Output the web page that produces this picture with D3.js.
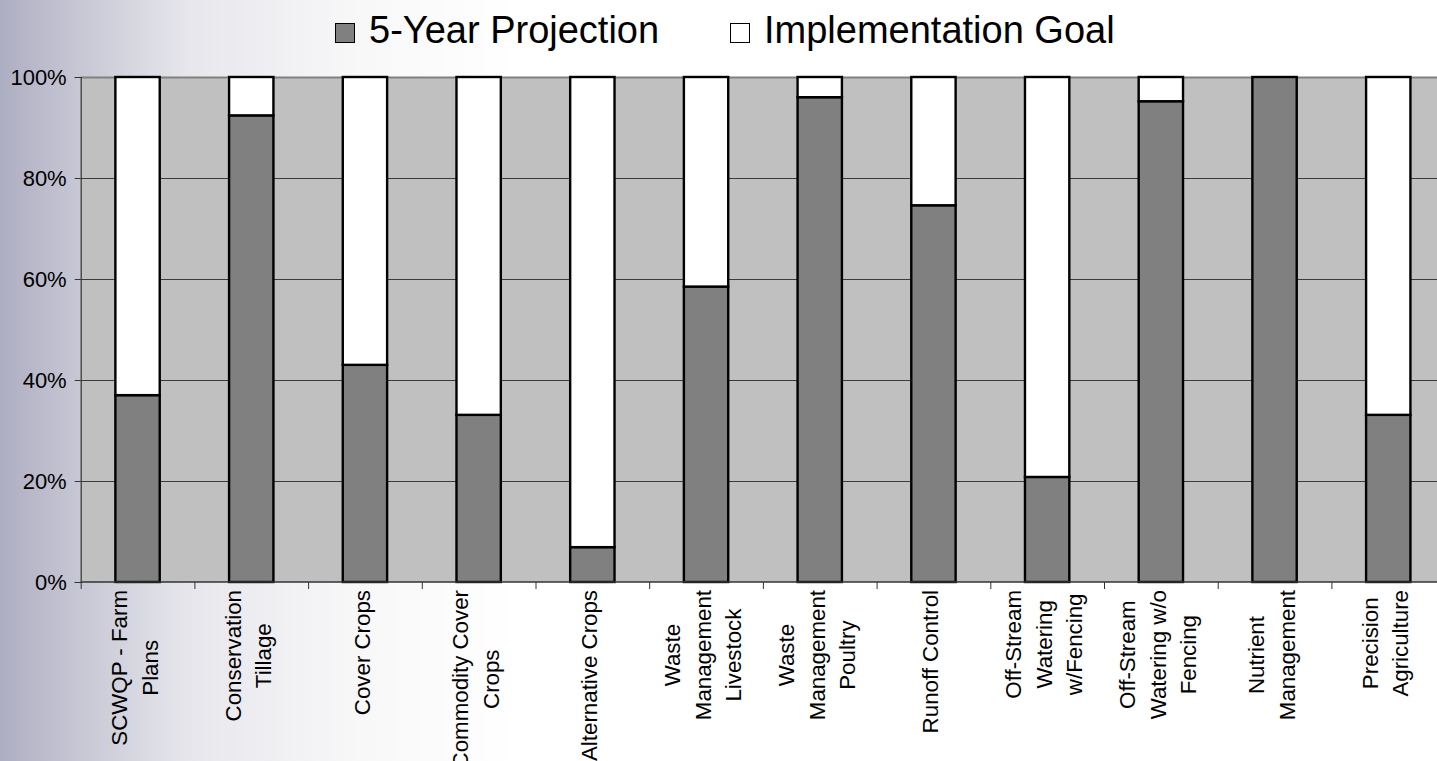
<!DOCTYPE html>
<html>
<head>
<meta charset="utf-8">
<script src="https://cdn.jsdelivr.net/npm/d3@7"></script>
<style>
  html, body { margin: 0; padding: 0; background: #fff; overflow: hidden; }
  text { font-family: "Liberation Sans", Arial, sans-serif; fill: #000; }
</style>
</head>
<body>
<div id="chart"></div>
<script>
// categories and the two stacked series (percent of goal)
const categories = [
  "SCWQP - Farm Plans", "Conservation Tillage", "Cover Crops", "Commodity Cover Crops",
  "Alternative Crops", "Waste Management Livestock", "Waste Management Poultry",
  "Runoff Control", "Off-Stream Watering w/Fencing", "Off-Stream Watering w/o Fencing",
  "Nutrient Management", "Precision Agriculture"
];
// how each label wraps on the axis
const labelLines = [
  ["SCWQP - Farm", "Plans"], ["Conservation", "Tillage"], ["Cover Crops"],
  ["Commodity Cover", "Crops"], ["Alternative Crops"], ["Waste", "Management", "Livestock"],
  ["Waste", "Management", "Poultry"], ["Runoff Control"], ["Off-Stream", "Watering", "w/Fencing"],
  ["Off-Stream", "Watering w/o", "Fencing"], ["Nutrient", "Management"], ["Precision", "Agriculture"]
];
const projection = [37, 92.4, 43, 33.1, 6.9, 58.5, 96, 74.6, 20.8, 95.2, 100, 33.1];
const goal       = [63, 7.6, 57, 66.9, 93.1, 41.5, 4, 25.4, 79.2, 4.8, 0, 66.9];
const seriesNames = ["5-Year Projection", "Implementation Goal"];
const seriesColors = ["#808080", "#ffffff"];
const yTicks = [0, 20, 40, 60, 80, 100];

const width = 1437;
const height = 761;
const marginLeft = 80.7;
const marginTop = 77;
const plotBottom = 582;
const step = 113.7;
const fontStack = "'Liberation Sans', Arial, sans-serif";

const svg = d3.select("#chart").append("svg")
    .attr("width", width)
    .attr("height", height);

// background gradient on the left
const grad = svg.append("defs").append("linearGradient")
    .attr("id", "bg").attr("x1", 0).attr("x2", 1).attr("y1", 0).attr("y2", 0);
grad.append("stop").attr("offset", 0).attr("stop-color", "#aeaec2");
grad.append("stop").attr("offset", 0.06).attr("stop-color", "#c9c9d6");
grad.append("stop").attr("offset", 0.13).attr("stop-color", "#e6e6ec");
grad.append("stop").attr("offset", 0.24).attr("stop-color", "#f7f7f8");
grad.append("stop").attr("offset", 0.36).attr("stop-color", "#ffffff");
svg.append("rect").attr("width", width).attr("height", height).attr("fill", "url(#bg)");

// scales
const x = d3.scaleBand()
    .domain(categories)
    .range([marginLeft, marginLeft + step * categories.length])
    .padding(0);

const y = d3.scaleLinear()
    .domain([0, 100])
    .range([plotBottom, marginTop]);

// plot area
svg.append("rect")
    .attr("x", x.range()[0]).attr("y", y(100))
    .attr("width", x.range()[1] - x.range()[0])
    .attr("height", y(0) - y(100))
    .attr("fill", "#c0c0c0");

// gridlines
svg.append("g")
    .selectAll("line")
    .data(yTicks.filter(d => d > 0))
    .join("line")
    .attr("x1", x.range()[0]).attr("x2", x.range()[1])
    .attr("y1", d => Math.round(y(d)) + 0.5).attr("y2", d => Math.round(y(d)) + 0.5)
    .attr("stroke", d => d === 100 ? "#808080" : "#3c3c3c")
    .attr("stroke-width", d => d === 100 ? 2 : 1);

// stacked bars
const stack = d3.stack().keys([0, 1]).value((d, k) => k === 0 ? d.p : d.g);
const rows = categories.map((c, i) => ({ c, p: projection[i], g: goal[i] }));
const layers = stack(rows);
const barW = x.bandwidth() * 0.39;

svg.append("g")
    .selectAll("g")
    .data(layers)
    .join("g")
    .attr("fill", (d, i) => seriesColors[i])
    .selectAll("rect")
    .data(d => d.filter(s => s[1] - s[0] > 0))
    .join("rect")
    .attr("x", d => x(d.data.c) + (x.bandwidth() - barW) / 2)
    .attr("y", d => y(d[1]))
    .attr("width", barW)
    .attr("height", d => y(d[0]) - y(d[1]))
    .attr("stroke", "#000")
    .attr("stroke-width", 2.4);

// y axis
const yAxis = svg.append("g")
    .attr("transform", `translate(${x.range()[0]},0)`)
    .call(d3.axisLeft(y).tickValues(yTicks).tickFormat(d => d + "%").tickSize(6).tickPadding(8))
    .attr("font-size", null)
    .attr("font-family", null);
yAxis.select(".domain").attr("stroke", "#333").attr("stroke-width", 1.2);
yAxis.selectAll(".tick line").attr("stroke", "#333");
yAxis.selectAll(".tick text")
    .style("font-size", "22px")
    .style("font-family", fontStack)
    .attr("fill", "#000");

// x axis line and boundary ticks
const xAxis = svg.append("g").attr("transform", `translate(0,${plotBottom})`);
xAxis.append("line")
    .attr("x1", x.range()[0]).attr("x2", x.range()[1])
    .attr("stroke", "#333").attr("stroke-width", 1.5);
xAxis.selectAll("line.tk")
    .data(categories)
    .join("line")
    .attr("class", "tk")
    .attr("x1", d => x(d) + 0.5).attr("x2", d => x(d) + 0.5)
    .attr("y1", 0).attr("y2", 7)
    .attr("stroke", "#333");

// category labels, rotated, lines centred against each other
const lineH = 30.5;
const labels = svg.append("g")
    .selectAll("g")
    .data(categories)
    .join("g")
    .attr("transform", d => `translate(${x(d) + x.bandwidth() / 2 - 3},${plotBottom + 8}) rotate(-90)`);

labels.each(function(d, i) {
  const g = d3.select(this);
  const lines = labelLines[i];
  const texts = g.selectAll("text")
      .data(lines)
      .join("text")
      .style("font-size", "22.3px")
      .style("font-family", fontStack)
      .attr("text-anchor", "middle")
      .attr("y", (t, j) => (j - (lines.length - 1) / 2) * lineH)
      .attr("dy", "0.35em")
      .text(t => t);
  const maxW = d3.max(texts.nodes(), n => n.getComputedTextLength());
  texts.attr("x", -maxW / 2);
});

// legend
const legendItems = [
  { name: seriesNames[0], color: seriesColors[0], x: 335 },
  { name: seriesNames[1], color: seriesColors[1], x: 730 }
];
const legend = svg.append("g")
    .selectAll("g")
    .data(legendItems)
    .join("g")
    .attr("transform", d => `translate(${d.x},0)`);
legend.append("rect")
    .attr("x", 0.5).attr("y", 23.5)
    .attr("width", 19).attr("height", 19)
    .attr("fill", d => d.color)
    .attr("stroke", "#000").attr("stroke-width", 1);
legend.append("text")
    .attr("x", 34).attr("y", 43)
    .style("font-size", "38px")
    .style("font-family", fontStack)
    .text(d => d.name);
</script>
</body>
</html>
